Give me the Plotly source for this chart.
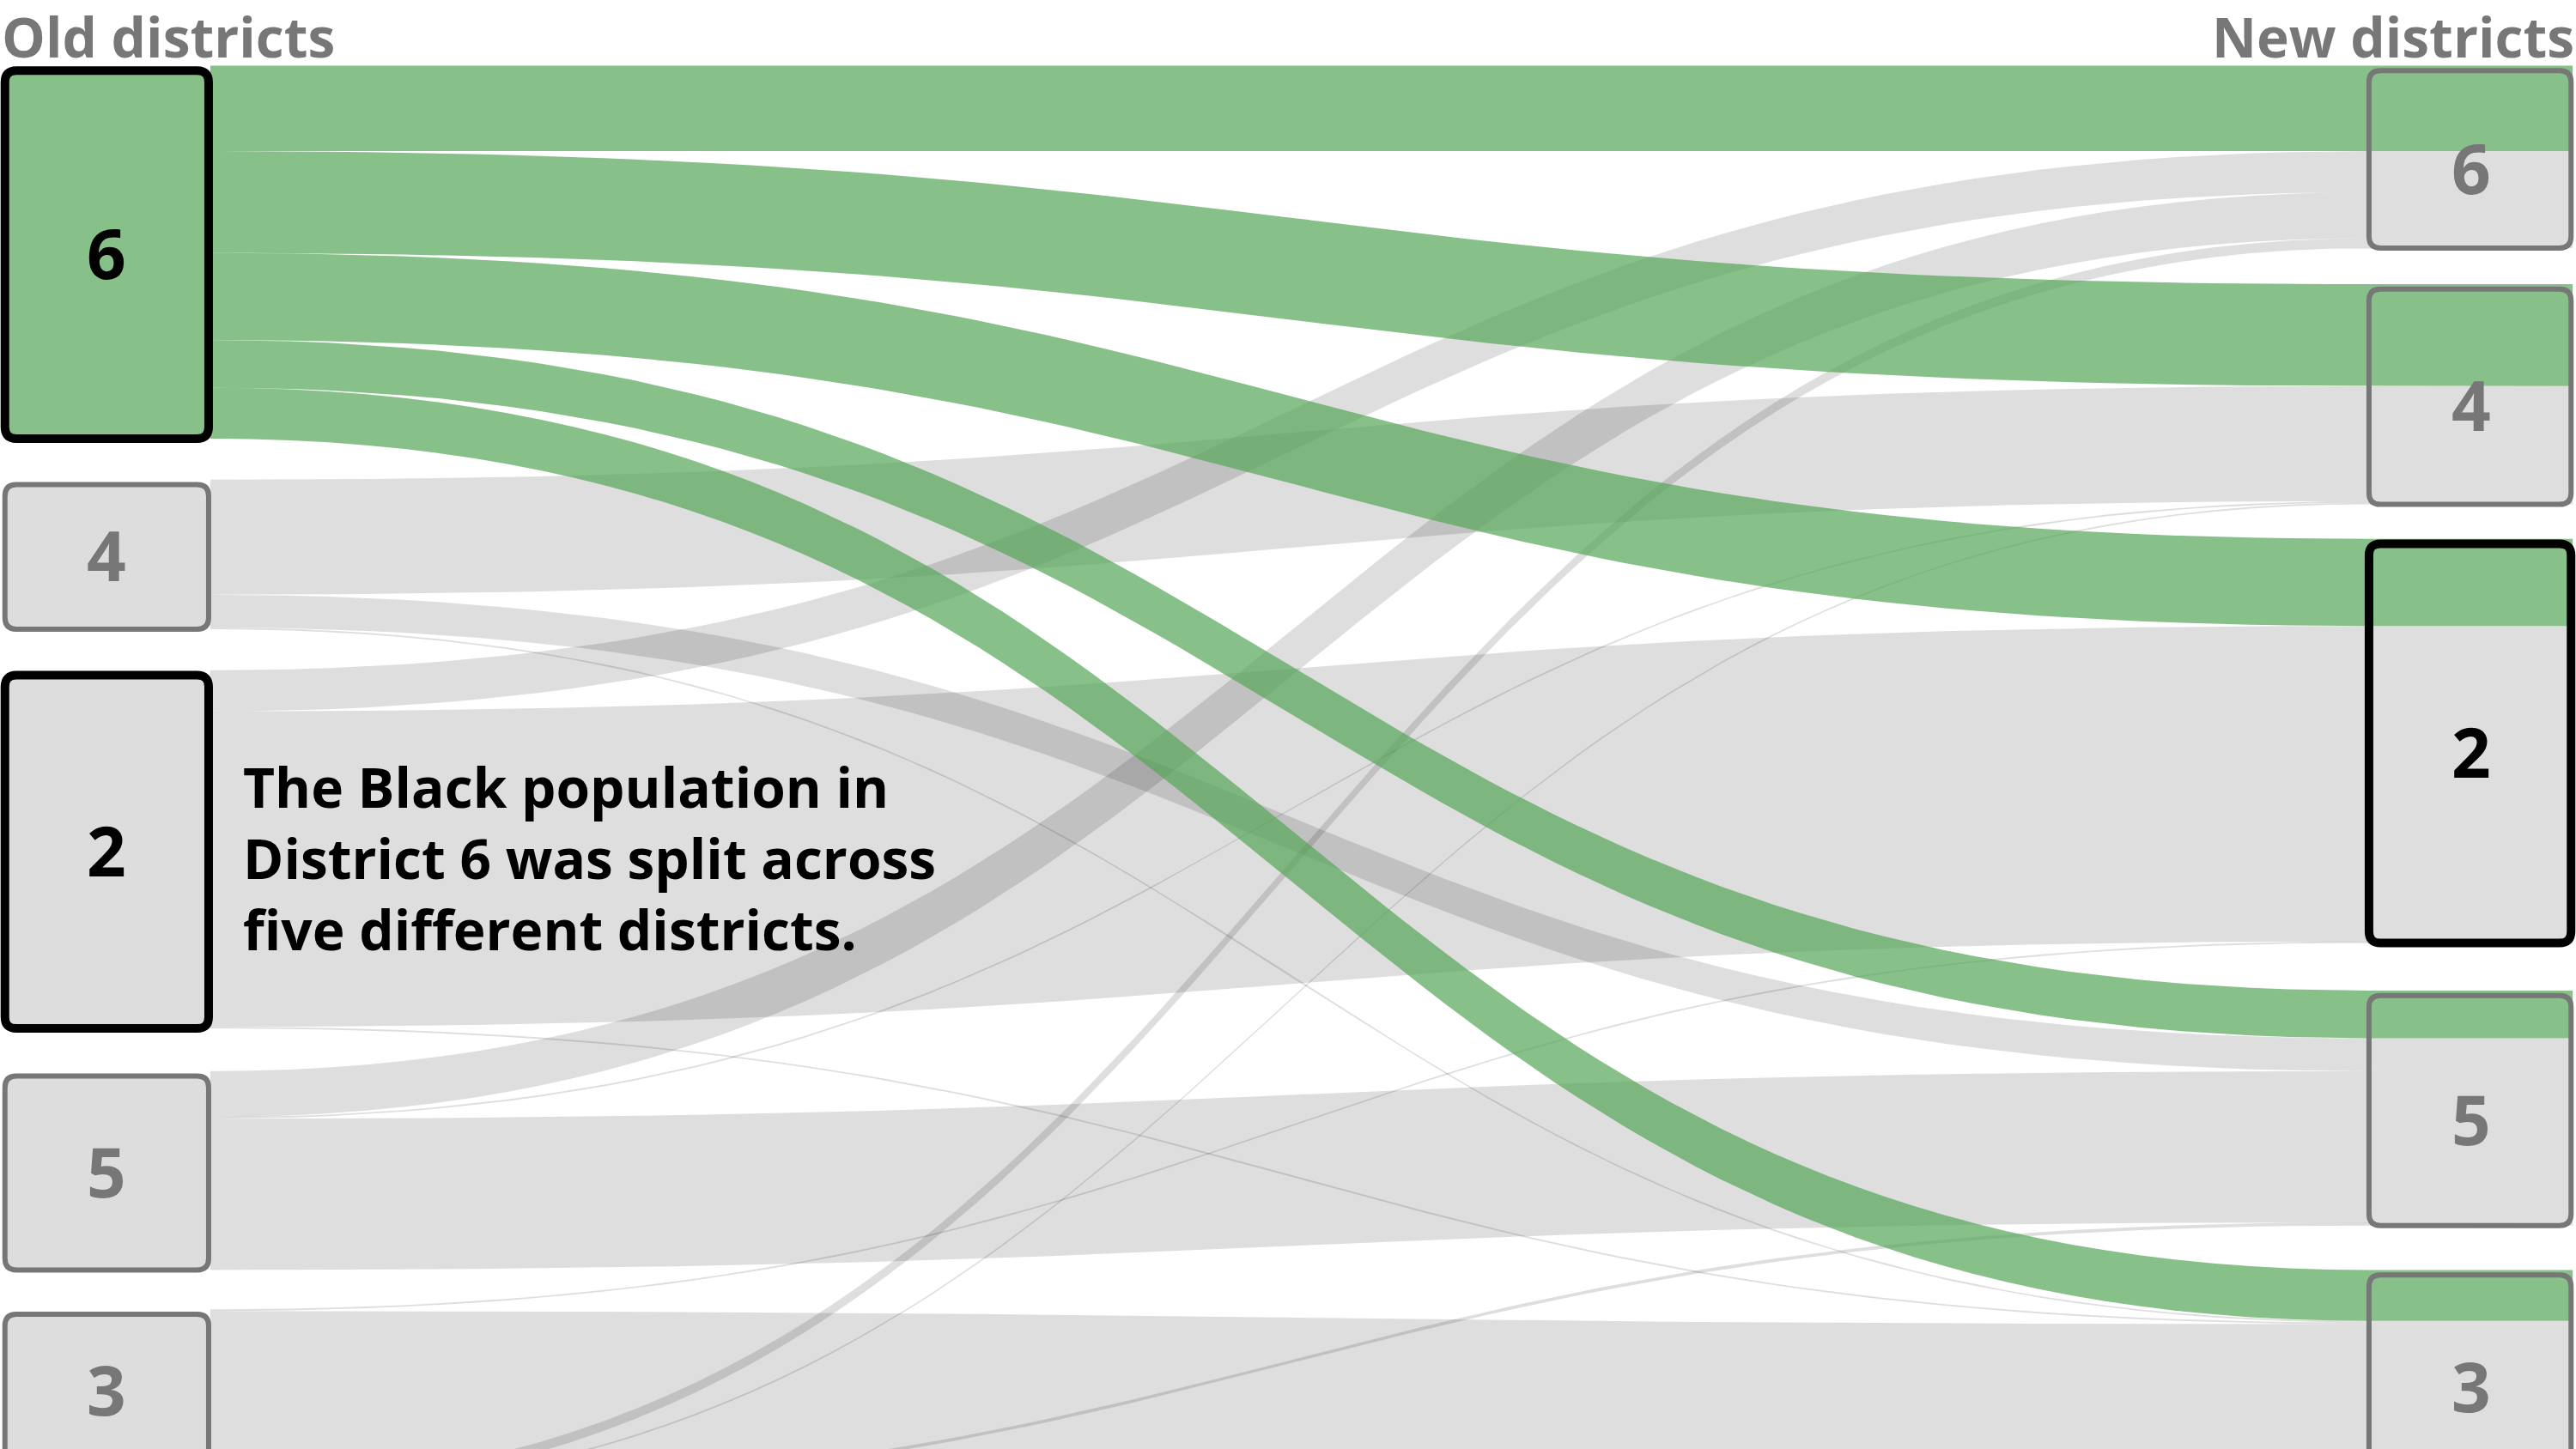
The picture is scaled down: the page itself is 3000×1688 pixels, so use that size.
import numpy as np
import plotly.graph_objects as go

old_nodes = ["6", "4", "2", "5", "3", "1"]
old_tops = [40, 292, 408, 652, 797, 905]
new_nodes = ["6", "4", "2", "5", "3"]
new_tops = [40, 173, 328, 603, 773]
# (source, target, value)
link_src = ["6", "6", "6", "6", "6", "4", "4", "4", "2", "2", "2", "5", "5", "5", "3", "3", "1", "1", "1"]
link_tgt = ["6", "4", "2", "5", "3", "4", "5", "3", "6", "2", "3", "6", "4", "5", "2", "3", "6", "4", "5"]
link_val = [52, 62, 53, 29, 31, 70, 20, 1, 25, 192, 1, 28, 1, 92, 1, 95, 6, 1, 2]
highlight_old = "6"
bold_nodes_old = ["6", "2"]
bold_nodes_new = ["2"]

GREEN = "rgba(85,165,88,0.7)"
GRAY = "rgba(0,0,0,0.13)"
XL0, XL1, XR0, XR1 = 2, 128, 1442, 1566

fig = go.Figure()
old_off = {n: t for n, t in zip(old_nodes, old_tops)}
new_off = {n: t for n, t in zip(new_nodes, new_tops)}
links = []
for s in old_nodes:
    for t in new_nodes:
        for a, b, v in zip(link_src, link_tgt, link_val):
            if a == s and b == t:
                links.append([a, b, v, old_off[a], 0])
                old_off[a] += v
for t in new_nodes:
    for s in old_nodes:
        for L in links:
            if L[0] == s and L[1] == t:
                L[4] = new_off[t]
                new_off[t] += L[2]

tt = np.linspace(0, 1, 80)
def curve(y0, y1):
    xm = (XL1 + XR0) / 2
    bx = (1-tt)**3*XL1 + 3*(1-tt)**2*tt*xm + 3*(1-tt)*tt**2*xm + tt**3*XR0
    by = (1-tt)**3*y0 + 3*(1-tt)**2*tt*y0 + 3*(1-tt)*tt**2*y1 + tt**3*y1
    return list(bx), list(by)

for layer in ["gray", "green"]:
    for a, b, v, y0, y1 in links:
        isg = a == highlight_old
        if (layer == "green") != isg:
            continue
        tx, ty = curve(y0, y1)
        bx, by = curve(y0 + v, y1 + v)
        xs = tx + [XR1, XR1] + bx[::-1]
        ys = ty + [y1, y1 + v] + by[::-1]
        fig.add_trace(go.Scatter(x=xs, y=ys, fill="toself", mode="lines", line=dict(width=0),
                                 fillcolor=GREEN if isg else GRAY, hoverinfo="skip", showlegend=False))

def rrect(x0, y0, x1, y1, r=7):
    return (f"M{x0+r},{y0} L{x1-r},{y0} Q{x1},{y0} {x1},{y0+r} L{x1},{y1-r} Q{x1},{y1} {x1-r},{y1} "
            f"L{x0+r},{y1} Q{x0},{y1} {x0},{y1-r} L{x0},{y0+r} Q{x0},{y0} {x0+r},{y0} Z")

def node_h(name, side):
    return sum(v for a, b, v in zip(link_src, link_tgt, link_val) if (a if side == "old" else b) == name)

FONT = "Open Sans"
for n, t in zip(old_nodes, old_tops):
    h = node_h(n, "old")
    bold = n in bold_nodes_old
    fill = "#88c08a" if n == highlight_old else "#dddddd"
    fig.add_shape(type="path", path=rrect(XL0 + 1, t + 3, XL1 - 1, t + h), fillcolor=fill,
                  line=dict(color="#000" if bold else "#777", width=10 if bold else 6), layer="above")
    fig.add_annotation(x=(XL0 + XL1) / 2, y=t + h / 2, text=f"<b>{n}</b>", showarrow=False,
                       font=dict(family=FONT, size=80, color="#000" if bold else "#777"))
for n, t in zip(new_nodes, new_tops):
    h = node_h(n, "new")
    bold = n in bold_nodes_new
    fig.add_shape(type="path", path=rrect(XR0, t + 3, XR1 - 1, t + h), fillcolor="rgba(0,0,0,0)",
                  line=dict(color="#000" if bold else "#777", width=10 if bold else 6), layer="above")
    fig.add_annotation(x=(XR0 + XR1) / 2, y=t + h / 2 + 6, text=f"<b>{n}</b>", showarrow=False,
                       font=dict(family=FONT, size=80, color="#000" if bold else "#777"))

fig.add_annotation(x=0, y=1, xref="x", yref="paper", text="<b>Old districts</b>", showarrow=False,
                   xanchor="left", yanchor="top", yshift=3,
                   font=dict(family=FONT, size=64, color="#777"))
fig.add_annotation(x=1568, y=1, xref="x", yref="paper", text="<b>New districts</b>", showarrow=False,
                   xanchor="right", yanchor="top", yshift=3,
                   font=dict(family=FONT, size=64, color="#777"))
fig.add_annotation(x=147, y=522, text="<b>The Black population in<br>District 6 was split across<br>five different districts.</b>",
                   showarrow=False, xanchor="left", align="left",
                   font=dict(family=FONT, size=64, color="#000"))

fig.update_layout(width=3000, height=1688, margin=dict(l=0, r=0, t=0, b=0),
                  plot_bgcolor="white", paper_bgcolor="white",
                  xaxis=dict(range=[0, 1568], visible=False, fixedrange=True),
                  yaxis=dict(range=[882, 0], visible=False, fixedrange=True))
fig.write_html("out.html", config={"displayModeBar": False},
               post_script="document.body.style.margin='0';document.body.style.overflow='hidden';")
